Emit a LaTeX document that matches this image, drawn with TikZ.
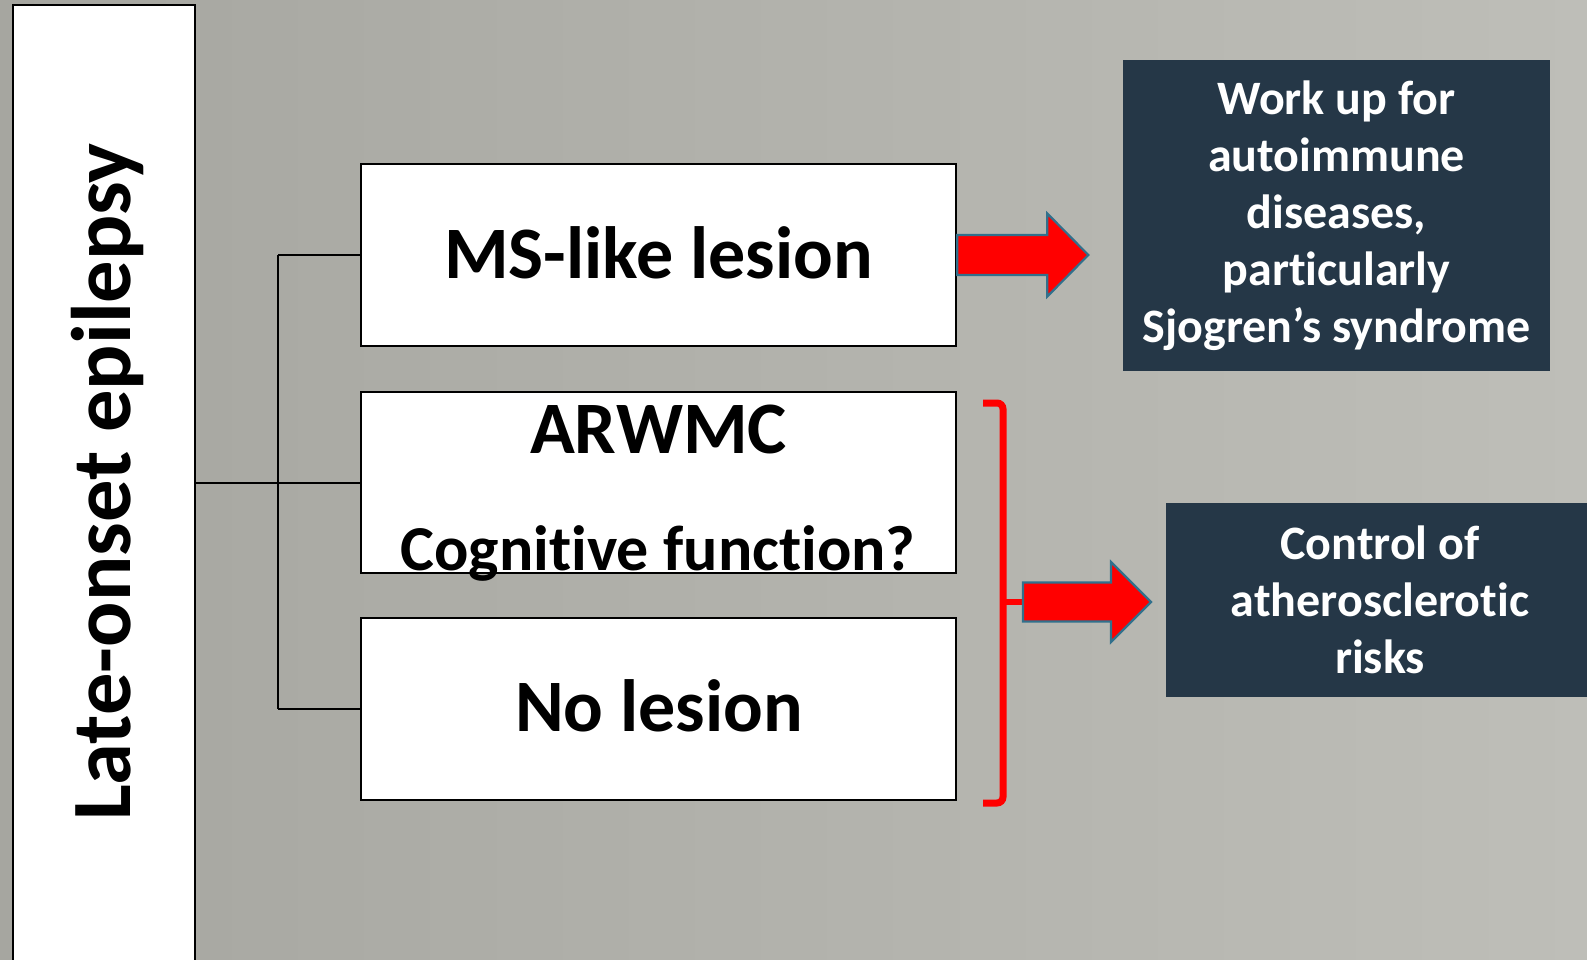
\documentclass[tikz,border=0pt]{standalone}
\usepackage{fontspec}
\setmainfont{Carlito}[Ligatures=NoCommon]
\usetikzlibrary{calc}
\definecolor{bgA}{RGB}{166,166,160}
\definecolor{bgB}{RGB}{190,190,184}
\definecolor{navy}{RGB}{37,55,71}
\definecolor{arrowedge}{RGB}{49,112,140}
\definecolor{brred}{RGB}{255,0,0}
\tikzset{
  whitebox/.style={draw=black, line width=2.6pt, fill=white, inner sep=0pt, font=\bfseries},
  darkbox/.style={fill=navy, inner sep=0pt, text=white, align=center,
    font=\fontsize{48}{57}\selectfont\bfseries},
  link/.style={draw=black, line width=2pt},
  blockarrow/.style={fill=brred, draw=arrowedge, line width=2.2pt, line join=miter},
  bracket/.style={draw=brred, line width=7pt, rounded corners=6pt}
}
\begin{document}
\begin{tikzpicture}[x=1pt, y=-1pt]
  % canvas
  \useasboundingbox (0,0) rectangle (1587,960);
  \shade[left color=bgA, right color=bgB] (0,0) rectangle (1587,960);

  % title column
  \node[whitebox, minimum width=182pt, minimum height=962pt] (title) at (104,486) {};
  \node[rotate=90, anchor=base, font=\fontsize{84.5}{88}\selectfont\bfseries] (titletext) at (130,482) {Late-onset epilepsy};

  % finding boxes
  \node[whitebox, minimum width=595pt, minimum height=182pt] (ms) at (658.5,255) {};
  \node[whitebox, minimum width=595pt, minimum height=181pt] (arwmc) at (658.5,482.5) {};
  \node[whitebox, minimum width=595pt, minimum height=182pt] (none) at (658.5,709) {};

  \node[anchor=base, font=\fontsize{74}{78}\selectfont\bfseries] (mstext) at (658.5,278) {MS-like lesion};
  \node[anchor=base, font=\fontsize{74}{78}\selectfont\bfseries] (arwmctext) at (658.5,453) {ARWMC};
  \node[anchor=base, font=\fontsize{64}{70}\selectfont\bfseries] (cogtext) at (658,570) {Cognitive function?};
  \node[anchor=base, font=\fontsize{74}{78}\selectfont\bfseries] (nonetext) at (659,731) {No lesion};

  % tree connectors
  \coordinate (spine) at (278,482.5);
  \draw[link] (title.east |- arwmc.west) -- (arwmc.west);
  \draw[link] (spine |- ms.west) -- (spine |- none.west);
  \draw[link] (spine |- ms.west) -- (ms.west);
  \draw[link] (spine |- none.west) -- (none.west);

  % recommendation boxes
  \node[darkbox, minimum width=427pt, minimum height=311pt] (workup) at (1336.5,215.5)
    {Work up for\\autoimmune\\diseases,\\particularly\\Sjogren’s syndrome};
  \node[darkbox, minimum width=428pt, minimum height=194pt] (control) at (1380,600)
    {Control of\\atherosclerotic\\risks};

  % block arrow from the MS-like box
  \draw[blockarrow] ($(ms.east)+(0,-20)$) -- ++(90,0) -- ++(0,-21.5) -- ++(41,41.5)
    -- ++(-41,41.5) -- ++(0,-21.5) -- ++(-90,0) -- cycle;

  % bracket over the lower two boxes
  \coordinate (brtop) at (1003,403);
  \coordinate (brbot) at (1003,803);
  \coordinate (brmid) at (1003,602);
  \draw[bracket] ($(brtop)+(-20,0)$) -- (brtop) -- (brbot) -- ($(brbot)+(-20,0)$);
  \draw[draw=brred, line width=6pt] (brmid) -- ++(20,0);

  % block arrow from the bracket
  \draw[blockarrow] ($(brmid)+(20,-19.5)$) -- ++(88,0) -- ++(0,-20.5) -- ++(40,40)
    -- ++(-40,40) -- ++(0,-20.5) -- ++(-88,0) -- cycle;
\end{tikzpicture}
\end{document}
